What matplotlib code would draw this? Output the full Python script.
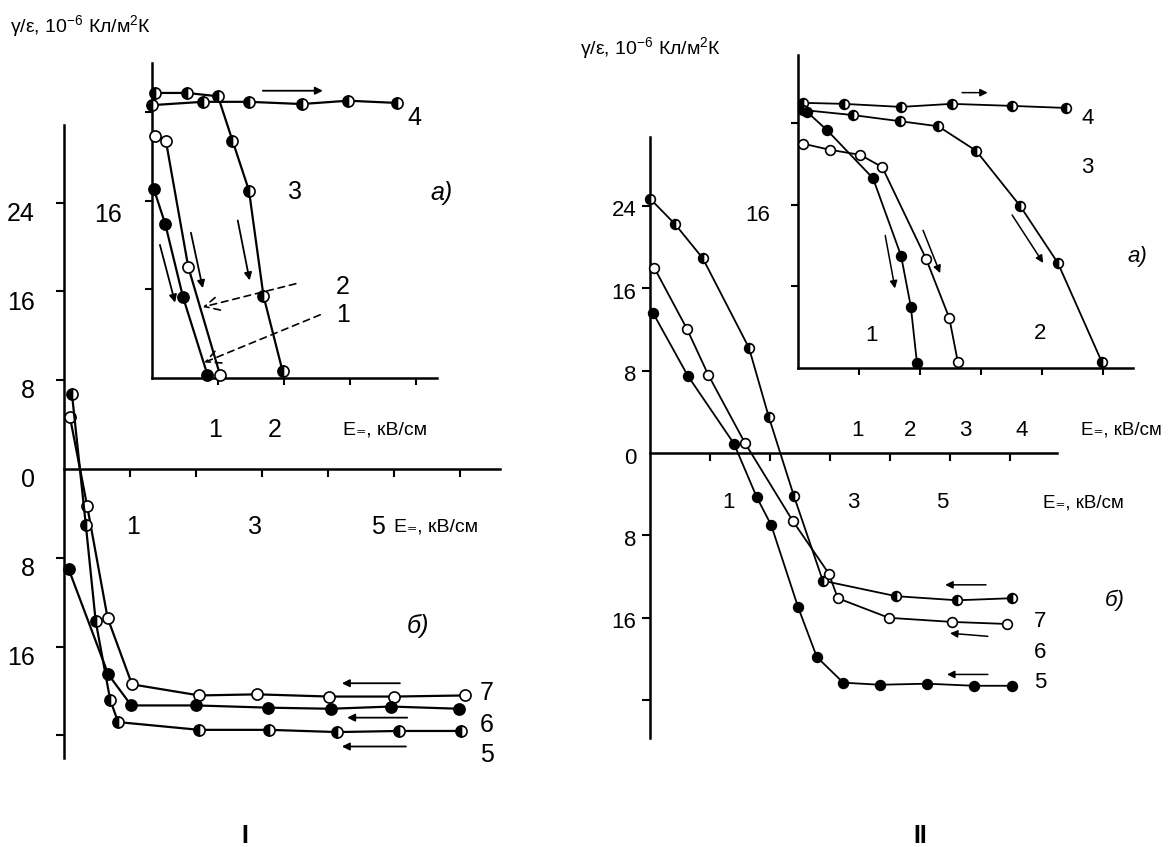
import matplotlib
matplotlib.use('Agg')
import matplotlib.pyplot as plt

# шрифты: гротеск, запасной DejaVu для редких знаков
plt.rcParams['font.family'] = ['Liberation Sans Narrow', 'Liberation Sans', 'DejaVu Sans']
plt.rcParams['mathtext.fontset'] = 'custom'
plt.rcParams['mathtext.rm'] = 'Liberation Sans'
plt.rcParams['mathtext.it'] = 'Liberation Sans:italic'

# ---------------- данные: рисунок I ----------------
# а) вставка
I_a1_x = [0.03, 0.20, 0.47, 0.84]
I_a1_y = [17.0, 13.9, 7.3, 0.3]
I_a2_x = [0.05, 0.21, 0.55, 1.03]
I_a2_y = [21.8, 21.4, 10.0, 0.3]
I_a3_x = [0.05, 0.53, 1.00, 1.22, 1.47, 1.69, 1.98]
I_a3_y = [25.7, 25.7, 25.4, 21.4, 16.9, 7.4, 0.6]
I_a4_x = [0.00, 0.77, 1.47, 2.27, 2.97, 3.71]
I_a4_y = [24.6, 24.9, 24.9, 24.7, 25.0, 24.8]
# б) основной график
I_b5_x = [0.12, 0.33, 0.48, 0.70, 0.82, 2.05, 3.11, 4.14, 5.08, 6.02]
I_b5_y = [6.8, -5.0, -13.7, -20.8, -22.8, -23.5, -23.5, -23.7, -23.6, -23.6]
I_b6_x = [0.07, 0.67, 1.02, 2.00, 3.09, 4.04, 4.95, 5.99]
I_b6_y = [-9.0, -18.5, -21.3, -21.3, -21.5, -21.6, -21.4, -21.6]
I_b7_x = [0.09, 0.35, 0.66, 1.03, 2.05, 2.93, 4.02, 5.00, 6.07]
I_b7_y = [4.7, -3.3, -13.4, -19.4, -20.4, -20.3, -20.5, -20.5, -20.4]

# ---------------- данные: рисунок II ----------------
II_a1_x = [0.15, 0.48, 1.23, 1.69, 1.85, 1.95]
II_a1_y = [25.1, 23.3, 18.6, 11.0, 6.0, 0.5]
II_a2_x = [0.08, 0.52, 1.02, 1.38, 2.10, 2.48, 2.62]
II_a2_y = [22.0, 21.4, 20.9, 19.7, 10.7, 4.9, 0.6]
II_a3_x = [0.08, 0.90, 1.67, 2.30, 2.92, 3.64, 4.26, 4.98]
II_a3_y = [25.3, 24.8, 24.2, 23.7, 21.3, 15.9, 10.3, 0.6]
II_a4_x = [0.08, 0.75, 1.69, 2.52, 3.51, 4.39]
II_a4_y = [26.0, 25.9, 25.6, 25.9, 25.7, 25.5]

II_b5_x = [0.05, 0.63, 1.40, 1.78, 2.02, 2.47, 2.78, 3.22, 3.83, 4.62, 5.40, 6.03]
II_b5_y = [13.6, 7.5, 0.9, -4.3, -7.0, -15.0, -19.8, -22.3, -22.5, -22.4, -22.6, -22.6]
II_b6_x = [0.00, 0.42, 0.88, 1.65, 1.98, 2.40, 2.88, 4.10, 5.12, 6.03]
II_b6_y = [24.7, 22.2, 18.9, 10.2, 3.5, -4.2, -12.4, -13.9, -14.3, -14.1]
II_b7_x = [0.07, 0.62, 0.97, 1.58, 2.38, 2.98, 3.13, 3.98, 5.03, 5.95]
II_b7_y = [18.0, 12.0, 7.6, 1.0, -6.6, -11.7, -14.1, -16.0, -16.4, -16.6]

# подписи делений
ytick_vals = [24, 16, 8, 0, -8, -16]
ytick_text = ['24', '16', '8', '0', '8', '16']

ylabel = 'γ/ε, 10$^{-6}$ Кл/м$^{2}$К'
xlabel = 'E\u208c, кВ/см'

W, H = 1170, 847
fig = plt.figure(figsize=(W / 100, H / 100), dpi=100)


def axes_px(x0, y0, x1, y1):
    # прямоугольник осей в пикселях картинки (y вниз)
    ax = fig.add_axes([x0 / W, 1 - y1 / H, (x1 - x0) / W, (y1 - y0) / H])
    ax.patch.set_alpha(0)
    for s in ['top', 'right']:
        ax.spines[s].set_visible(False)
    for s in ['left', 'bottom']:
        ax.spines[s].set_linewidth(1.8)
    return ax


OPEN = dict(markerfacecolor='white', markeredgecolor='black')
FULL = dict(markerfacecolor='black', markeredgecolor='black')
HALF = dict(markerfacecolor='black', markerfacecoloralt='white',
            markeredgecolor='black', fillstyle='left')


def curve(ax, x, y, style, lw, ms):
    ax.plot(x, y, color='black', lw=lw, marker='o', ms=ms, mew=1.2,
            clip_on=False, zorder=3, **style)


def arrow(ax, start, end, lw=1.3):
    ax.annotate('', xy=end, xytext=start,
                arrowprops=dict(arrowstyle='-|>', color='black', lw=lw,
                                mutation_scale=11, shrinkA=0, shrinkB=0))


def setup_ticks(ax, xt, yt, length=5):
    ax.set_xticks(xt)
    ax.set_yticks(yt)
    ax.set_xticklabels([])
    ax.set_yticklabels([])
    ax.tick_params(direction='out', length=length, width=1.5)


# ================= рисунок I =================
fs1 = 18
axI = axes_px(64, 125, 499.6, 757.6)
axI.set_xlim(0, 6.6)
axI.set_ylim(-26, 31)
axI.spines['bottom'].set_position(('data', 0))
setup_ticks(axI, [1, 2, 3, 4, 5, 6], [24, 16, 8, -8, -16, -24], 6)

for v, t in zip(ytick_vals, ytick_text):
    axI.text(-0.44, v - 1.0, t, ha='right', va='center', fontsize=fs1, clip_on=False)
for v, xx in [(1, 1.05), (3, 2.89), (5, 4.76)]:
    axI.text(xx, -5.2, str(v), ha='center', va='center', fontsize=fs1)
axI.text(5.0, -5.2, xlabel, ha='left', va='center', fontsize=14, clip_on=False)

curve(axI, I_b7_x, I_b7_y, OPEN, 1.6, 8)
curve(axI, I_b6_x, I_b6_y, FULL, 1.6, 8)
curve(axI, I_b5_x, I_b5_y, HALF, 1.6, 8)
arrow(axI, (5.09, -19.3), (4.21, -19.3))
arrow(axI, (5.20, -22.4), (4.29, -22.4))
arrow(axI, (5.18, -25.0), (4.21, -25.0))
for t, yy in [('7', -20.2), ('6', -23.1), ('5', -25.8)]:
    axI.text(6.41, yy, t, ha='center', va='center', fontsize=fs1, clip_on=False)
axI.text(5.36, -14.1, 'б)', ha='center', va='center', fontsize=fs1, style='italic')

# вставка а)
axIa = axes_px(152, 63, 437, 378)
axIa.set_xlim(0, 4.32)
axIa.set_ylim(0, 28.4)
setup_ticks(axIa, [1, 2, 3, 4], [8, 16, 24], 5)
axIa.text(-0.45, 14.7, '16', ha='right', va='center', fontsize=fs1)
axIa.text(0.95, -4.7, '1', ha='center', va='center', fontsize=fs1, clip_on=False)
axIa.text(1.86, -4.7, '2', ha='center', va='center', fontsize=fs1, clip_on=False)
axIa.text(2.89, -4.7, xlabel, ha='left', va='center', fontsize=14, clip_on=False)

curve(axIa, I_a4_x, I_a4_y, HALF, 1.6, 8)
curve(axIa, I_a3_x, I_a3_y, HALF, 1.6, 8)
curve(axIa, I_a2_x, I_a2_y, OPEN, 1.6, 8)
curve(axIa, I_a1_x, I_a1_y, FULL, 1.6, 8)
arrow(axIa, (1.68, 25.9), (2.59, 25.9))
arrow(axIa, (0.12, 12.0), (0.35, 6.8))
arrow(axIa, (0.59, 13.1), (0.77, 8.1))
arrow(axIa, (1.30, 14.2), (1.48, 8.8))
for start, end in [((2.18, 8.5), (0.77, 6.4)), ((2.55, 5.7), (0.79, 1.4))]:
    axIa.annotate('', xy=end, xytext=start,
                  arrowprops=dict(arrowstyle='->', color='black', lw=1.2,
                                  linestyle=(0, (4, 3)), mutation_scale=26,
                                  shrinkA=0, shrinkB=0))
axIa.text(3.98, 23.4, '4', ha='center', va='center', fontsize=fs1)
axIa.text(2.17, 16.8, '3', ha='center', va='center', fontsize=fs1)
axIa.text(4.39, 16.7, 'а)', ha='center', va='center', fontsize=fs1, style='italic',
          clip_on=False)
axIa.text(2.89, 8.2, '2', ha='center', va='center', fontsize=fs1)
axIa.text(2.89, 5.7, '1', ha='center', va='center', fontsize=fs1)

# ================= рисунок II =================
fs2 = 16
axII = axes_px(650, 136.8, 1056.8, 738.3)
axII.set_xlim(0, 6.78)
axII.set_ylim(-27.7, 30.7)
axII.spines['bottom'].set_position(('data', 0))
setup_ticks(axII, [1, 2, 3, 4, 5, 6], [24, 16, 8, -8, -16, -24], 6)
for v, t in zip(ytick_vals, ytick_text):
    axII.text(-0.23, v - 0.5, t, ha='right', va='center', fontsize=fs2, clip_on=False)
for v, xx in [(1, 1.30), (3, 3.38), (5, 4.87)]:
    axII.text(xx, -4.8, str(v), ha='center', va='center', fontsize=fs2)
axII.text(6.55, -4.9, xlabel, ha='left', va='center', fontsize=13.5, clip_on=False)

curve(axII, II_b6_x, II_b6_y, HALF, 1.3, 7)
curve(axII, II_b7_x, II_b7_y, OPEN, 1.3, 7)
curve(axII, II_b5_x, II_b5_y, FULL, 1.3, 7)
arrow(axII, (5.60, -12.8), (4.92, -12.8), 1.1)
arrow(axII, (5.63, -17.8), (5.00, -17.5), 1.1)
arrow(axII, (5.63, -21.5), (4.95, -21.5), 1.1)
for t, yy in [('7', -16.4), ('6', -19.4), ('5', -22.3)]:
    axII.text(6.5, yy, t, ha='center', va='center', fontsize=fs2, clip_on=False)
axII.text(7.75, -14.3, 'б)', ha='center', va='center', fontsize=fs2, style='italic',
          clip_on=False)

# вставка а)
axIIa = axes_px(798, 54.9, 1132.9, 368)
axIIa.set_xlim(0, 5.49)
axIIa.set_ylim(0, 30.7)
setup_ticks(axIIa, [1, 2, 3, 4, 5], [8, 16, 24], 5)
axIIa.text(-0.46, 15.0, '16', ha='right', va='center', fontsize=fs2)
for v, xx in [(1, 0.98), (2, 1.84), (3, 2.75), (4, 3.67)]:
    axIIa.text(xx, -6.1, str(v), ha='center', va='center', fontsize=fs2, clip_on=False)
axIIa.text(4.64, -6.1, xlabel, ha='left', va='center', fontsize=13.5, clip_on=False)

curve(axIIa, II_a4_x, II_a4_y, HALF, 1.3, 7)
curve(axIIa, II_a3_x, II_a3_y, HALF, 1.3, 7)
curve(axIIa, II_a2_x, II_a2_y, OPEN, 1.3, 7)
curve(axIIa, II_a1_x, II_a1_y, FULL, 1.3, 7)
arrow(axIIa, (2.69, 27.0), (3.11, 27.0), 1.1)
arrow(axIIa, (1.43, 13.0), (1.59, 7.8), 1.1)
arrow(axIIa, (2.05, 13.5), (2.33, 9.3), 1.1)
arrow(axIIa, (3.51, 15.0), (4.02, 10.3), 1.1)
axIIa.text(1.21, 3.2, '1', ha='center', va='center', fontsize=fs2)
axIIa.text(3.97, 3.4, '2', ha='center', va='center', fontsize=fs2)
axIIa.text(4.75, 19.7, '3', ha='center', va='center', fontsize=fs2, clip_on=False)
axIIa.text(4.75, 24.5, '4', ha='center', va='center', fontsize=fs2, clip_on=False)
axIIa.text(5.57, 10.9, 'а)', ha='center', va='center', fontsize=fs2, style='italic',
           clip_on=False)

# подписи осей и номера рисунков
fig.text(10 / W, 1 - 26 / H, ylabel, ha='left', va='center', fontsize=14)
fig.text(580 / W, 1 - 48 / H, ylabel, ha='left', va='center', fontsize=14)
fig.text(245 / W, 1 - 836 / H, 'I', ha='center', va='center', fontsize=18, weight='bold')
fig.text(920 / W, 1 - 836 / H, 'II', ha='center', va='center', fontsize=18, weight='bold')

fig.savefig('out.png', dpi=100, facecolor='white')
